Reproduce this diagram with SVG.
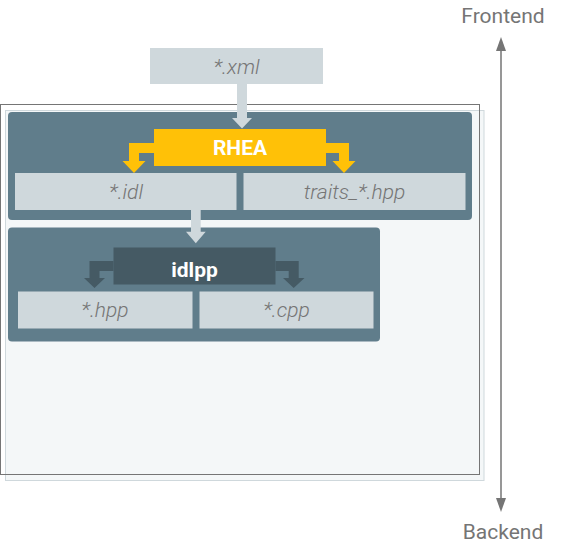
<svg xmlns="http://www.w3.org/2000/svg" width="566" height="552" viewBox="0 0 566 552">
<style>
  .panel { fill: #607d8b; }
  .file { fill: #cfd8dc; }
  .ftxt { font-family: Roboto, "Liberation Sans", sans-serif; font-style: italic; font-weight: 300; font-size: 21px; fill: #757575; text-anchor: middle; }
  .tool { font-family: Roboto, "Liberation Sans", sans-serif; font-weight: bold; font-size: 21px; fill: #ffffff; text-anchor: middle; }
  .side { font-family: Roboto, "Liberation Sans", sans-serif; font-size: 21px; fill: #757575; text-anchor: middle; }
  .flow { fill: #cfd8dc; }
</style>
<defs>
  <marker id="axisHead" viewBox="0 0 14 10" refX="0" refY="5" markerWidth="14" markerHeight="10" markerUnits="userSpaceOnUse" orient="auto-start-reverse">
    <path d="M0,0 L14,5 L0,10 z" fill="#757575"/>
  </marker>
</defs>
<rect width="566" height="552" fill="#ffffff"/>
<g id="backend-area">
  <rect x="5.5" y="110.5" width="478.5" height="370" fill="#f4f7f8" stroke="#cfd8dc" stroke-width="1"/>
  <rect x="0.5" y="104.5" width="479" height="370" fill="none" stroke="#757575" stroke-width="1"/>
</g>
<g id="xml">
  <rect class="file" x="150" y="48" width="173" height="36"/>
  <text class="ftxt" x="236.5" y="73.5">*.xml</text>
</g>
<g id="rhea-panel">
  <rect class="panel" x="8" y="112" width="464" height="108" rx="4"/>
</g>
<g id="rhea">
  <rect x="154" y="129" width="172" height="37" fill="#ffc107"/>
  <text class="tool" x="240" y="155">RHEA</text>
</g>
<g id="idl">
  <rect class="file" x="15" y="173" width="221.5" height="37"/>
  <text class="ftxt" x="126" y="198.5">*.idl</text>
</g>
<g id="traits">
  <rect class="file" x="243.5" y="173" width="222" height="37"/>
  <text class="ftxt" x="354.5" y="198.5">traits_*.hpp</text>
</g>
<g id="idlpp-panel">
  <rect class="panel" x="8" y="227.5" width="372" height="114" rx="4"/>
</g>
<g id="idlpp">
  <rect x="113.5" y="247.5" width="162" height="37" fill="#455a64"/>
  <text class="tool" x="194.5" y="276.5">idlpp</text>
</g>
<g id="hpp">
  <rect class="file" x="18" y="291.5" width="174.5" height="37"/>
  <text class="ftxt" x="105" y="317">*.hpp</text>
</g>
<g id="cpp">
  <rect class="file" x="199.5" y="291.5" width="174" height="37"/>
  <text class="ftxt" x="286.5" y="317">*.cpp</text>
</g>
<g id="frontend-label">
  <text class="side" x="503" y="23">Frontend</text>
</g>
<g id="backend-label">
  <text class="side" x="503" y="538.5">Backend</text>
</g>
<g id="connectors">
  <path class="flow" d="M237,84 H247 V118 H252 L242,128.5 L232,118 H237 Z"/>
  <path class="flow" d="M191,210 H200.7 V231.7 H205.7 L195.8,243.3 L186,231.7 H191 Z"/>
  <path fill="#ffc107" d="M154,143 H129 V161 H122.5 L134,173 L145.5,161 H139 V153 H154 Z"/>
  <path fill="#ffc107" d="M326,143 H349 V161 H355.5 L344,173 L332.5,161 H339 V153 H326 Z"/>
  <path fill="#455a64" d="M113.5,261 H89.5 V278 H84 L94.5,288 L105,278 H99.5 V271 H113.5 Z"/>
  <path fill="#455a64" d="M275.5,261 H298.7 V278 H304.5 L293.7,288 L283,278 H288.7 V271 H275.5 Z"/>
  <line x1="501" y1="51" x2="501" y2="498" stroke="#757575" stroke-width="1.5" marker-start="url(#axisHead)" marker-end="url(#axisHead)"/>
</g>
</svg>
